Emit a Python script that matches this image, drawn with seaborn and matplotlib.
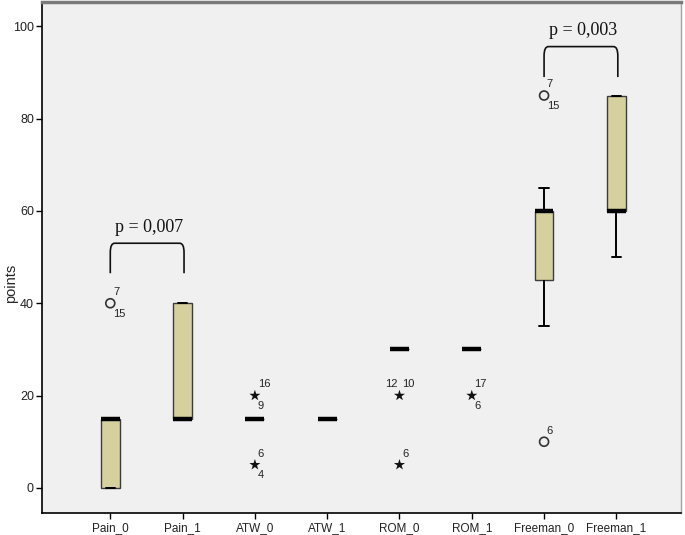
import numpy as np
import pandas as pd
import matplotlib
matplotlib.use("Agg")
import matplotlib.pyplot as plt
from matplotlib.path import Path
from matplotlib.patches import PathPatch
import seaborn as sns

#%%
# data (17 cases per variable)
variables = ["Pain_0", "Pain_1", "ATW_0", "ATW_1", "ROM_0", "ROM_1", "Freeman_0", "Freeman_1"]

pain_0 = [0, 0, 0, 0, 0, 15, 15, 15, 15, 15, 15, 15, 15, 15, 15, 40, 40]
pain_1 = [15, 15, 15, 15, 15, 15, 15, 15, 15, 40, 40, 40, 40, 40, 40, 40, 40]
atw_0 = [5, 5, 15, 15, 15, 15, 15, 15, 15, 15, 15, 15, 15, 15, 15, 20, 20]
atw_1 = [15, 15, 15, 15, 15, 15, 15, 15, 15, 15, 15, 15, 15, 15, 15, 15, 15]
rom_0 = [5, 20, 20, 30, 30, 30, 30, 30, 30, 30, 30, 30, 30, 30, 30, 30, 30]
rom_1 = [20, 20, 30, 30, 30, 30, 30, 30, 30, 30, 30, 30, 30, 30, 30, 30, 30]
freeman_0 = [10, 35, 40, 45, 45, 50, 55, 55, 60, 60, 60, 60, 60, 65, 65, 85, 85]
freeman_1 = [50, 55, 60, 60, 60, 60, 60, 60, 60, 70, 75, 85, 85, 85, 85, 85, 85]

# case numbers written next to outliers / extremes
case_labels = {
    ("Pain_0", 40): ["7", "15"],
    ("ATW_0", 20): ["16", "9"],
    ("ATW_0", 5): ["6", "4"],
    ("ROM_0", 20): ["12", "10"],
    ("ROM_0", 5): ["6"],
    ("ROM_1", 20): ["17", "6"],
    ("Freeman_0", 85): ["7", "15"],
    ("Freeman_0", 10): ["6"],
}

# significance brackets
comparisons = [("Pain_0", "Pain_1", "p = 0,007"), ("Freeman_0", "Freeman_1", "p = 0,003")]
bracket_low = [46.5, 89.0]
bracket_top = [53.0, 95.6]

#%%
series = [pain_0, pain_1, atw_0, atw_1, rom_0, rom_1, freeman_0, freeman_1]
df = pd.DataFrame({"var": np.repeat(variables, [len(s) for s in series]),
                   "points": np.concatenate(series)})
pos = {v: i for i, v in enumerate(variables)}

# SPSS style: circle = outlier (1.5-3 IQR), star = extreme (> 3 IQR)
rows = []
for v, vals in zip(variables, series):
    vals = np.array(vals)
    q1, q3 = np.percentile(vals, [25, 75])
    iqr = q3 - q1
    for val in np.unique(vals):
        d = max(q1 - val, val - q3)
        if d > 1.5 * iqr:
            rows.append((v, pos[v], val, "star" if d > 3 * iqr else "circle"))
fl = pd.DataFrame(rows, columns=["var", "x", "points", "kind"])

#%%
sns.set_theme(style="ticks")
plt.rcParams["font.family"] = ["Liberation Sans", "DejaVu Sans"]

fig = plt.figure(figsize=(6.85, 5.35), dpi=100)
ax = fig.add_axes([0.0618, 0.0406, 0.933, 0.956])
ax.set_facecolor("#F0F0F0")

sns.boxplot(data=df, x="var", y="points", order=variables, ax=ax,
            width=0.26, color="#D5D09E", saturation=1, showfliers=False,
            linecolor="#3C3C3C", linewidth=1,
            medianprops={"color": "black", "linewidth": 3.2},
            whiskerprops={"color": "black", "linewidth": 1.4},
            capprops={"color": "black", "linewidth": 1.4})

circ = fl[fl["kind"] == "circle"]
star = fl[fl["kind"] == "star"]
sns.scatterplot(data=circ, x="x", y="points", ax=ax, marker="o", s=42,
                facecolor="none", edgecolor="#333333", linewidth=1.2, zorder=5)
sns.scatterplot(data=star, x="x", y="points", ax=ax, marker="*", s=70,
                color="#111111", edgecolor="none", zorder=5)

offsets = {"ur": (2.0, 8.0, "left"), "lr": (2.0, -7.5, "left"), "ul": (-1.5, 8.0, "right")}
for (v, val), labs in case_labels.items():
    if v == "ROM_0" and len(labs) == 2:
        places = ["ul", "ur"]
    else:
        places = ["ur", "lr"]
    for lab, p in zip(labs, places):
        dx, dy, ha = offsets[p]
        ax.annotate(lab, (pos[v], val), xytext=(dx, dy), textcoords="offset points",
                    ha=ha, va="center", fontsize=8, color="#222222")

# brackets with rounded corners
for (a, b, txt), lo, hi in zip(comparisons, bracket_low, bracket_top):
    x0, x1 = pos[a], pos[b] + 0.02
    rx, ry = 0.06, 2.0
    verts = [(x0, lo), (x0, hi - ry), (x0, hi), (x0 + rx, hi),
             (x1 - rx, hi), (x1, hi), (x1, hi - ry), (x1, lo)]
    codes = [Path.MOVETO, Path.LINETO, Path.CURVE3, Path.CURVE3,
             Path.LINETO, Path.CURVE3, Path.CURVE3, Path.LINETO]
    ax.add_patch(PathPatch(Path(verts, codes), fill=False, edgecolor="#111111", linewidth=1.2))
    ax.text((x0 + x1) / 2 + 0.03, hi + 3.4, txt, ha="center", va="center",
            fontsize=13, family=["Liberation Serif", "DejaVu Serif"], color="#111111")

ax.set_xlim(-0.94, 7.9)
ax.set_ylim(-5.5, 105.3)
ax.set_yticks([0, 20, 40, 60, 80, 100])
ax.set_xlabel("")
ax.set_ylabel("points", fontsize=10.5)
ax.yaxis.set_label_coords(-0.038, 0.45)
ax.tick_params(axis="both", direction="out", length=4.5, width=1, color="black",
               labelsize=8.5, pad=1.5, labelcolor="#222222")
ax.tick_params(axis="y", labelsize=9)

for side in ["left", "bottom"]:
    ax.spines[side].set_color("black")
    ax.spines[side].set_linewidth(1.2)
ax.spines["top"].set_color("#7A7A7A")
ax.spines["top"].set_linewidth(2.5)
ax.spines["right"].set_color("#A0A0A0")
ax.spines["right"].set_linewidth(1)

fig.savefig("out.png", dpi=100, facecolor="white")
